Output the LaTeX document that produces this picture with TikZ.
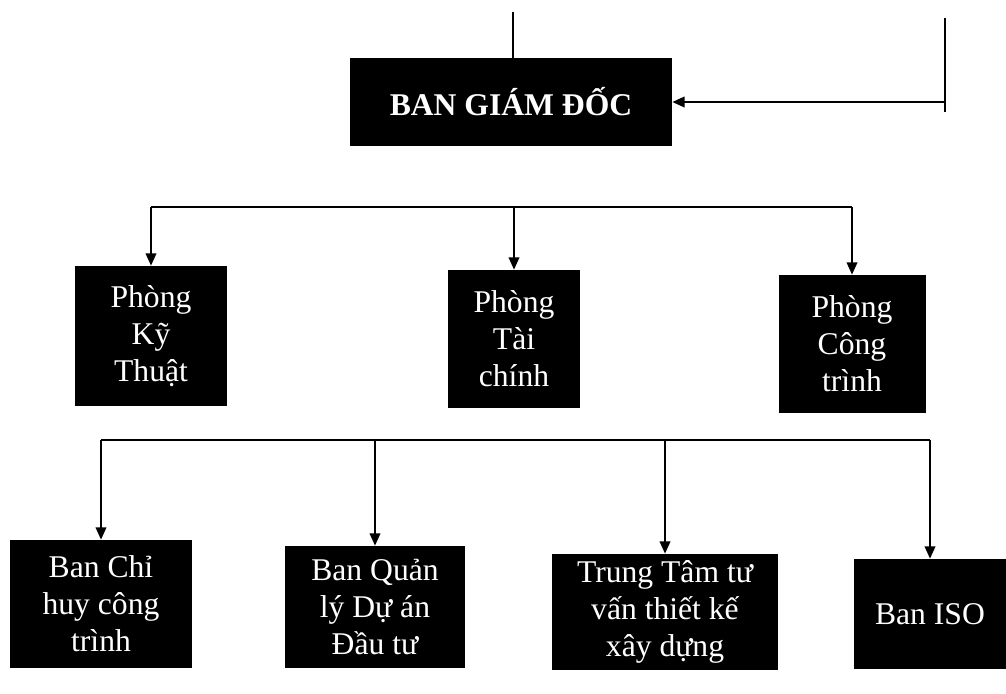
\documentclass[tikz,border=0pt]{standalone}
\usepackage{fontspec}
\setmainfont{Liberation Serif}
\usetikzlibrary{arrows.meta}
\begin{document}
\begin{tikzpicture}[x=0.02cm,y=-0.02cm,
  box/.style={fill=black,text=white,inner sep=0pt,align=center,
    font=\fontsize{18}{21}\selectfont},
  ln/.style={line width=1.1pt,black},
  arr/.style={ln,-{Triangle[length=7pt,width=6pt]}}]
\useasboundingbox (0,0) rectangle (1006,693);
% top box
\node[box,minimum width=6.44cm,minimum height=1.76cm,font=\fontsize{18}{21}\selectfont\bfseries] (boss) at (511,102) {BAN GIÁM ĐỐC};
% row 2
\node[box,minimum width=3.04cm,minimum height=2.8cm] (kt) at (151,336) {Phòng\\Kỹ\\Thuật};
\node[box,minimum width=2.64cm,minimum height=2.76cm] (tc) at (514,339) {Phòng\\Tài\\chính};
\node[box,minimum width=2.94cm,minimum height=2.76cm] (ct) at (852,344) {Phòng\\Công\\trình};
% row 3
\node[box,minimum width=3.64cm,minimum height=2.56cm] (bch) at (101,604) {Ban Chỉ\\huy công\\trình};
\node[box,minimum width=3.6cm,minimum height=2.44cm] (bql) at (375,607) {Ban Quản\\lý Dự án\\Đầu tư};
\node[box,minimum width=4.52cm,minimum height=2.32cm] (ttv) at (665,612) {Trung Tâm tư\\vấn thiết kế\\xây dựng};
\node[box,minimum width=3.06cm,minimum height=2.2cm] (iso) at (930,614) {Ban ISO};
% top connectors
\coordinate (topin) at (513,12);
\draw[ln] (topin) -- (topin |- boss.north);
\coordinate (rt) at (945,18);
\coordinate (rb) at (945,112);
\coordinate (rm) at (945,102);
\draw[ln] (rt) -- (rb);
\draw[arr] (rm) -- (boss.east);
% level 2 bus
\coordinate (b2l) at (151,207);
\coordinate (b2r) at (852,207);
\draw[ln] (b2l) -- (b2r);
\draw[arr] (b2l) -- (kt.north);
\draw[arr] (tc.north |- b2l) -- (tc.north);
\draw[arr] (b2r) -- (ct.north);
% level 3 bus
\coordinate (b3l) at (101,440);
\coordinate (b3r) at (930,440);
\draw[ln] (b3l) -- (b3r);
\draw[arr] (b3l) -- (bch.north);
\draw[arr] (bql.north |- b3l) -- (bql.north);
\draw[arr] (ttv.north |- b3l) -- (ttv.north);
\draw[arr] (b3r) -- (iso.north);
\end{tikzpicture}
\end{document}
